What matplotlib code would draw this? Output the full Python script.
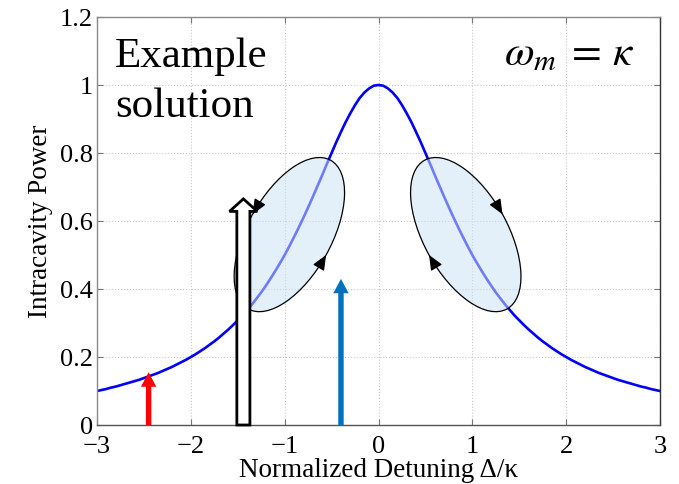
import numpy as np
import matplotlib
matplotlib.use('Agg')
import matplotlib.pyplot as plt
from matplotlib.patches import Ellipse
from matplotlib.transforms import Affine2D

# Intracavity power, detuning -3..3 in steps of 0.05
detuning = np.linspace(-3, 3, 121)
half = [1.000, 0.998, 0.990, 0.978, 0.962, 0.941, 0.917, 0.891, 0.862, 0.832,
        0.800, 0.768, 0.735, 0.703, 0.671, 0.640, 0.610, 0.581, 0.553, 0.526,
        0.500, 0.476, 0.453, 0.431, 0.410, 0.390, 0.372, 0.354, 0.338, 0.322,
        0.308, 0.294, 0.281, 0.269, 0.257, 0.246, 0.236, 0.226, 0.217, 0.208,
        0.200, 0.192, 0.185, 0.178, 0.171, 0.165, 0.159, 0.153, 0.148, 0.143,
        0.138, 0.133, 0.129, 0.125, 0.121, 0.117, 0.113, 0.110, 0.106, 0.103,
        0.100]
power = half[::-1] + half[1:]

x_ticks = [-3, -2, -1, 0, 1, 2, 3]
y_ticks = [0, 0.2, 0.4, 0.6, 0.8, 1.0, 1.2]
y_tick_labels = ['0', '0.2', '0.4', '0.6', '0.8', '1', '1.2']

# vertical arrows: (x position, tip height)
red_arrow = (-2.45, 0.155)
blue_arrow = (-0.40, 0.43)
hollow_arrow = (-1.44, 0.665)

# ellipses (centre in data units, semi-axes in pixels, tilt in degrees)
ell_centres = [(-0.95, 0.56), (0.93, 0.56)]
ell_axes = (85, 42)
ell_tilt = [61, -61]
ell_dir = [1, -1]   # +1 counter-clockwise, -1 clockwise

serif = 'Liberation Serif'
plt.rcParams['font.family'] = serif
plt.rcParams['mathtext.fontset'] = 'stix'

fig = plt.figure(figsize=(6.79, 4.84), dpi=100)
ax = fig.add_axes([97 / 679, 59 / 484, 563 / 679, 408 / 484])

ax.plot(detuning, power, color=(0, 0, 1), lw=1.9, zorder=2)

ax.set_xlim(-3, 3)
ax.set_ylim(0, 1.2)
ax.set_xticks(x_ticks)
ax.set_yticks(y_ticks)
ax.set_yticklabels(y_tick_labels)
ax.tick_params(direction='in', length=4, width=0.8, color='#777777',
               labelsize=19, top=True, right=True)
ax.tick_params(axis='x', pad=8)
ax.tick_params(axis='y', pad=3)
ax.grid(True, linestyle=':', color='#c8c8c8', lw=0.8)
ax.set_axisbelow(True)
for side, c in [('left', '#8a8a8a'), ('top', '#8a8a8a'),
                ('bottom', '#555555'), ('right', '#333333')]:
    ax.spines[side].set_color(c)
    ax.spines[side].set_linewidth(1.0)

ax.set_xlabel('Normalized Detuning Δ/κ', fontsize=19.5, labelpad=0)
ax.set_ylabel('Intracavity Power', fontsize=19.5, labelpad=5)

# pixels per data unit
bb = ax.get_window_extent()
sx = bb.width / 6.0
sy = bb.height / 1.2

for (cx, cy), tilt, d in zip(ell_centres, ell_tilt, ell_dir):
    loc = Affine2D().scale(ell_axes[0], ell_axes[1]).rotate_deg(tilt) \
        .scale(1 / sx, 1 / sy).translate(cx, cy)
    e = Ellipse((0, 0), 2, 2, transform=loc + ax.transData,
                facecolor=(0.80, 0.89, 0.96), alpha=0.55, edgecolor='none',
                zorder=3)
    ax.add_patch(e)
    e2 = Ellipse((0, 0), 2, 2, transform=loc + ax.transData,
                 facecolor='none', edgecolor='k', lw=0.9, zorder=4)
    ax.add_patch(e2)
    for t in [90, 270]:
        tr = np.radians([t - d * 6, t])
        pts = loc.transform(np.column_stack([np.cos(tr), np.sin(tr)]))
        ax.annotate('', xy=pts[1], xytext=pts[0],
                    arrowprops=dict(arrowstyle='-|>,head_length=0.7,head_width=0.3',
                                    color='k', lw=0.9, shrinkA=0, shrinkB=0,
                                    mutation_scale=13),
                    zorder=5)

# solid vertical arrows
for (x, tip), col in [(red_arrow, (1, 0, 0)), (blue_arrow, (0, 114 / 255, 189 / 255))]:
    ax.annotate('', xy=(x, tip), xytext=(x, 0),
                arrowprops=dict(arrowstyle='simple,head_length=0.8,head_width=0.85,tail_width=0.3',
                                fc=col, ec='none', shrinkA=0, shrinkB=0,
                                mutation_scale=13),
                zorder=6, annotation_clip=False)

# hollow arrow
ax.annotate('', xy=(hollow_arrow[0], hollow_arrow[1]), xytext=(hollow_arrow[0], 0),
            arrowprops=dict(arrowstyle='simple,head_length=0.45,head_width=1.0,tail_width=0.47',
                            fc='white', ec='k', lw=2, shrinkA=0, shrinkB=0,
                            mutation_scale=20, joinstyle='miter'),
            zorder=6, annotation_clip=False)

ax.text(0.032, 0.95, 'Example\nsolution', transform=ax.transAxes,
        fontsize=31, va='top', ha='left', linespacing=1.4)
ax.text(0.956, 0.882, r'$\omega_m\;=\,\kappa$', transform=ax.transAxes,
        fontsize=31, va='baseline', ha='right')

fig.savefig('out.png', dpi=100)
